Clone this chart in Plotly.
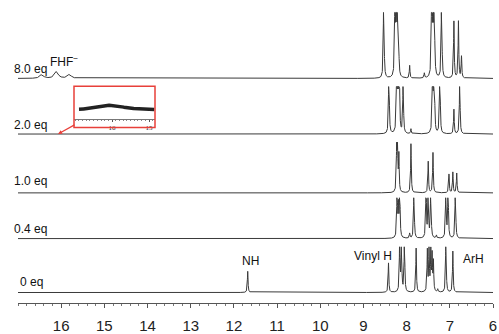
import numpy as np
import plotly.graph_objects as go

# ---------------- data ----------------
trace_labels = ["0 eq", "0.4 eq", "1.0 eq", "2.0 eq", "8.0 eq"]
offsets = [10.7, 65.7, 112.3, 172.3, 229.0]      # stacking offsets
caps = [46.6, 41.6, 51.7, 48.4, 67.3]            # plotted peak cut-off

peaks_0 = [11.68, 8.42, 8.16, 8.12, 8.05, 7.78, 7.52, 7.48, 7.44, 7.41, 7.38, 7.28, 7.09, 6.93]
heights_0 = [21.6, 30, 60, 60, 60, 45, 42, 46, 40, 36, 30, 3, 60, 42]

peaks_04 = [8.22, 8.19, 8.16, 7.93, 7.83, 7.55, 7.50, 7.44, 7.31, 7.09, 7.04, 6.87]
heights_04 = [60, 30, 60, 5, 60, 60, 60, 60, 3, 60, 60, 60]

peaks_10 = [8.23, 8.21, 8.18, 7.90, 7.50, 7.39, 7.02, 6.93, 6.84]
heights_10 = [47, 45, 37, 50, 32, 41, 19, 21, 20]

peaks_20 = [8.41, 8.23, 8.20, 8.17, 8.08, 7.90, 7.40, 7.37, 7.35, 7.23, 6.905, 6.77]
heights_20 = [80, 80, 80, 80, 60, 5, 80, 80, 20, 80, 25, 60]

peaks_80 = [8.53, 8.27, 8.24, 8.21, 8.18, 7.93, 7.59, 7.42, 7.39, 7.36, 7.19, 6.905, 6.80, 6.73]
heights_80 = [100, 100, 100, 100, 17, 13, 5, 100, 100, 100, 100, 58, 58, 22]

fhf_peaks = [16.45, 16.11, 15.81]
fhf_heights = [4, 7, 4]

inset_peak = [16.0]
inset_height = [5]

x_ticks = [16, 15, 14, 13, 12, 11, 10, 9, 8, 7, 6]
inset_ticks = [16, 15]

# ---------------- geometry (page pixels) ----------------
PLOT_L, PLOT_R, PLOT_T, PLOT_B = 18, 493, 0, 309
PW, PH = PLOT_R - PLOT_L, PLOT_B - PLOT_T

GAMMA = 0.009
ppm = np.arange(6.0, 17.0001, 0.001)


def spectrum(x, centers, heights, gamma):
    y = np.zeros_like(x)
    for c, h in zip(centers, heights):
        y += h / (1 + ((x - c) / gamma) ** 2)
    return y


def px2ppm(px):
    return 17 - (px - PLOT_L) / (PW / 11)


def paper_x(px):
    return (px - PLOT_L) / PW


def paper_y(py):
    return (PLOT_B - py) / PH


peak_sets = [
    (peaks_0, heights_0, [], []),
    (peaks_04, heights_04, [], []),
    (peaks_10, heights_10, [], []),
    (peaks_20, heights_20, [], []),
    (peaks_80, heights_80, fhf_peaks, fhf_heights),
]

fig = go.Figure()
for (pk, ht, bpk, bht), off, cap in zip(peak_sets, offsets, caps):
    y = spectrum(ppm, pk, ht, GAMMA) + spectrum(ppm, bpk, bht, 0.05)
    y = np.minimum(y, cap) + off
    fig.add_trace(go.Scatter(x=ppm, y=y, mode="lines",
                             line=dict(color="#3a3a3a", width=1),
                             hoverinfo="skip", showlegend=False))

# inset
xi = np.arange(14.86, 16.90, 0.005)
yi = 9 + spectrum(xi, inset_peak, inset_height, 0.35)
fig.add_trace(go.Scatter(x=xi, y=yi, mode="lines", xaxis="x2", yaxis="y2",
                         line=dict(color="#222", width=3.5),
                         hoverinfo="skip", showlegend=False))

FONT = "Liberation Sans, Arial"

annotations = []
label_pos = [(18, 288), (12, 234), (12, 185), (12, 127), (12, 70)]
for lab, (lx, ly) in zip(trace_labels, label_pos):
    annotations.append(dict(x=paper_x(lx), y=paper_y(ly), xref="paper", yref="paper",
                            text=lab, showarrow=False, xanchor="left", yanchor="middle",
                            font=dict(family=FONT, size=12, color="#111")))

extra = [("FHF<sup>−</sup>", 48, 62, "left", 12), ("NH", 250, 266, "center", 12),
         ("Vinyl H", 394, 261, "right", 12), ("ArH", 461, 264, "left", 12)]
for t, lx, ly, anc, fs in extra:
    annotations.append(dict(x=paper_x(lx), y=paper_y(ly), xref="paper", yref="paper",
                            text=t, showarrow=False, xanchor=anc, yanchor="middle",
                            font=dict(family=FONT, size=fs, color="#111")))

# red arrow from inset to 2.0 eq trace
annotations.append(dict(x=px2ppm(58), y=offsets[3], xref="x", yref="y", text="",
                        showarrow=True, ax=18, ay=-10, arrowcolor="#e8403a",
                        arrowhead=2, arrowsize=0.7, arrowwidth=1.2, standoff=0))

fig.update_layout(
    width=499, height=334,
    margin=dict(l=PLOT_L, r=499 - PLOT_R, t=PLOT_T, b=334 - PLOT_B, pad=0),
    paper_bgcolor="white", plot_bgcolor="white",
    xaxis=dict(range=[17, 6], tickmode="array", tickvals=x_ticks,
               ticks="outside", ticklen=4, tickcolor="#555",
               showline=True, linecolor="#555", linewidth=1,
               showgrid=False, zeroline=False,
               minor=dict(dtick=0.2, ticks="outside", ticklen=2, tickcolor="#777"),
               tickfont=dict(family=FONT, size=15, color="#222"),
               ticklabelstandoff=5),
    yaxis=dict(range=[0, PH], visible=False, fixedrange=True),
    xaxis2=dict(domain=[paper_x(74), paper_x(155)], anchor="y2",
                range=[17.03, 14.84], tickmode="array", tickvals=inset_ticks,
                ticks="outside", ticklen=2, tickcolor="#555",
                showline=True, linecolor="#777", linewidth=0.8,
                showgrid=False, zeroline=False,
                minor=dict(dtick=0.1, ticks="outside", ticklen=1.5, tickcolor="#888"),
                tickfont=dict(family="Liberation Serif", size=7, color="#222"),
                ticklabelstandoff=0),
    yaxis2=dict(domain=[paper_y(121), paper_y(89)], anchor="x2",
                range=[0, 32], visible=False),
    shapes=[dict(type="rect", xref="paper", yref="paper",
                 x0=paper_x(74), x1=paper_x(155),
                 y0=paper_y(130), y1=paper_y(88),
                 line=dict(color="#e8403a", width=1.5), fillcolor="rgba(0,0,0,0)")],
    annotations=annotations,
)

fig.write_html("out.html", config={"displayModeBar": False},
               post_script="document.body.style.margin='0px';"
                           "document.body.style.overflow='hidden';")
